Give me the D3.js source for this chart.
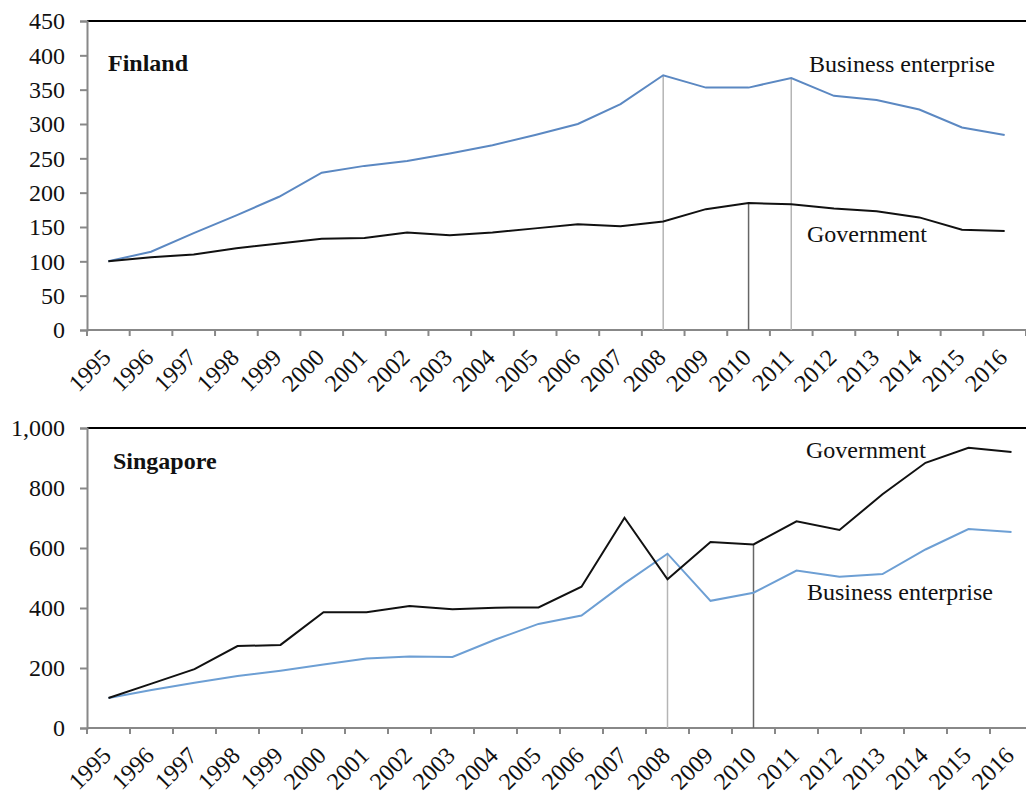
<!DOCTYPE html>
<html>
<head>
<meta charset="utf-8">
<script src="https://cdn.jsdelivr.net/npm/d3@7"></script>
<style>
body { margin: 0; background: #fff; }
svg { display: block; font-family: "Liberation Serif", "Times New Roman", serif; }
</style>
</head>
<body>
<script>
const w = 1026;
const h = 795;

const years = ["1995","1996","1997","1998","1999","2000","2001","2002","2003","2004","2005",
	"2006","2007","2008","2009","2010","2011","2012","2013","2014","2015","2016"];

// Finland
const finBusiness = [100,114,141,167,194,229,239,246,257,269,284,300,329,371,353,353,367,341,335,321,295,284];
const finGovernment = [100,106,110,119,126,133,134,142,138,142,148,154,151,158,176,185,183,177,173,164,146,144];
const finTicks = [0,50,100,150,200,250,300,350,400,450];

// Singapore
const sgpGovernment = [100,148,196,273,277,386,386,407,396,401,402,471,701,496,620,612,689,660,779,884,934,920];
const sgpBusiness = [100,127,151,173,191,212,232,238,237,295,347,375,482,581,424,451,525,504,513,595,663,653];
const sgpTicks = [0,200,400,600,800,1000];

// drop lines: [year, series]
const finDrops = [["2008","business"],["2010","government"],["2011","business"]];
const sgpDrops = [["2008","business"],["2010","government"]];

const fs = 24;

const svg = d3.select("body").append("svg")
	.attr("width", w)
	.attr("height", h);

function panel(opt) {
	const x = d3.scaleBand().domain(years).range([opt.left, opt.right]);
	const y = d3.scaleLinear().domain([0, d3.max(opt.ticks)]).range([opt.bottom, opt.top]);
	const g = svg.append("g");
	const series = {business: opt.business, government: opt.government};

	// top border
	g.append("line")
		.attr("x1", opt.left).attr("x2", w)
		.attr("y1", y(d3.max(opt.ticks))).attr("y2", y(d3.max(opt.ticks)))
		.attr("stroke", "#000").attr("stroke-width", 2);

	// y axis
	const yAxis = d3.axisLeft(y).tickValues(opt.ticks).tickSize(7).tickPadding(15)
		.tickFormat(opt.format);
	const ya = g.append("g")
		.attr("transform", "translate(" + opt.left + ",0)")
		.call(yAxis);
	ya.select(".domain").attr("stroke", "#888").attr("stroke-width", 2);
	ya.selectAll(".tick line").attr("stroke", "#888").attr("stroke-width", 2);
	ya.selectAll("text").attr("font-size", fs).attr("fill", "#111")
		.attr("font-family", "Liberation Serif");

	// x axis line and boundary ticks
	g.append("line")
		.attr("x1", opt.left).attr("x2", Math.min(opt.right, w))
		.attr("y1", y(0)).attr("y2", y(0))
		.attr("stroke", "#888").attr("stroke-width", 2);
	const bounds = years.map((d) => x(d)).concat([opt.right]);
	g.selectAll(".xt")
		.data(bounds)
		.enter()
		.append("line")
		.attr("x1", (d) => d).attr("x2", (d) => d)
		.attr("y1", y(0)).attr("y2", y(0) + 6)
		.attr("stroke", "#888").attr("stroke-width", 2);

	g.selectAll(".xl")
		.data(years)
		.enter()
		.append("text")
		.attr("transform", (d) => "translate(" + (x(d) + x.bandwidth() / 2 + 4) + "," + (y(0) + 29) + ") rotate(-45)")
		.attr("text-anchor", "end")
		.attr("font-size", fs)
		.attr("fill", "#111")
		.text((d) => d);

	// drop lines
	g.selectAll(".drop")
		.data(opt.drops)
		.enter()
		.append("line")
		.attr("x1", (d) => x(d[0]) + x.bandwidth() / 2)
		.attr("x2", (d) => x(d[0]) + x.bandwidth() / 2)
		.attr("y1", (d) => y(series[d[1]][years.indexOf(d[0])]))
		.attr("y2", y(0))
		.attr("stroke", (d) => d[1] == "government" ? "#666" : "#b5b5b5")
		.attr("stroke-width", 1.5);

	const line = d3.line()
		.x((d, i) => x(years[i]) + x.bandwidth() / 2)
		.y((d) => y(d));

	g.append("path")
		.datum(opt.business)
		.attr("d", line)
		.attr("fill", "none")
		.attr("stroke", opt.blue)
		.attr("stroke-width", 2);

	g.append("path")
		.datum(opt.government)
		.attr("d", line)
		.attr("fill", "none")
		.attr("stroke", "#111")
		.attr("stroke-width", 2);

	g.append("text")
		.attr("x", opt.title[1]).attr("y", opt.title[2])
		.attr("font-size", fs).attr("font-weight", "bold").attr("fill", "#111")
		.text(opt.title[0]);

	opt.labels.forEach((l) => {
		g.append("text")
			.attr("x", l[1]).attr("y", l[2])
			.attr("font-size", fs).attr("fill", "#111")
			.text(l[0]);
	});
}

panel({
	left: 87, right: 1026, top: 21, bottom: 330,
	ticks: finTicks, format: d3.format("d"),
	business: finBusiness, government: finGovernment,
	drops: finDrops, blue: "#5b88c2",
	title: ["Finland", 108, 71],
	labels: [["Business enterprise", 809, 72], ["Government", 807, 242]]
});

panel({
	left: 87, right: 1033, top: 428, bottom: 728,
	ticks: sgpTicks, format: d3.format(","),
	business: sgpBusiness, government: sgpGovernment,
	drops: sgpDrops, blue: "#6d9fd4",
	title: ["Singapore", 113, 469],
	labels: [["Government", 806, 458], ["Business enterprise", 807, 600]]
});
</script>
</body>
</html>
